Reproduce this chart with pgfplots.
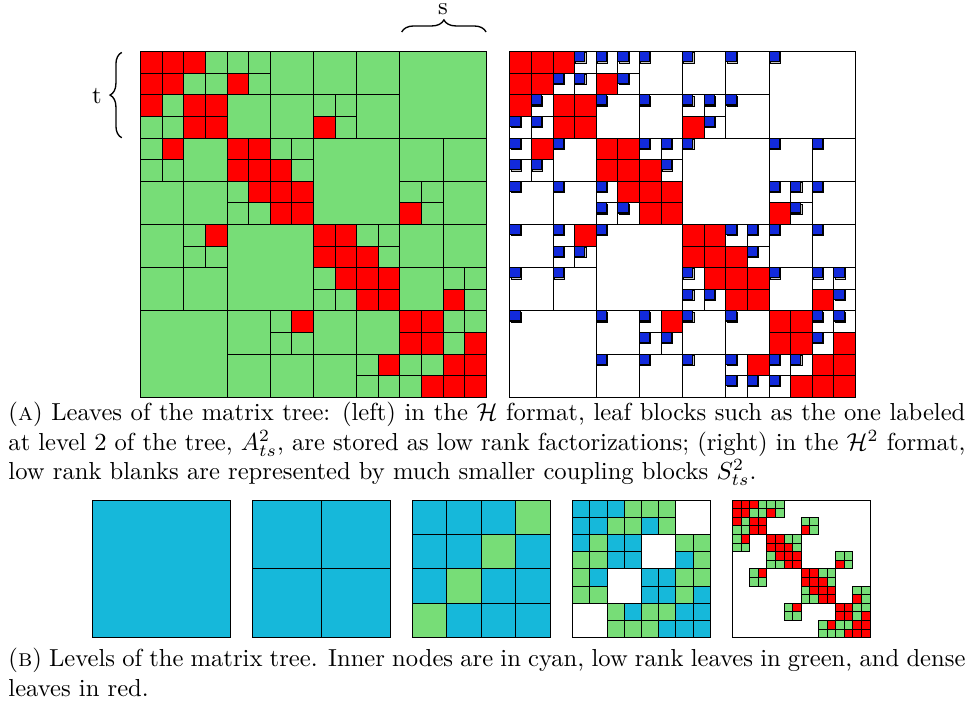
\documentclass[border=0pt]{standalone}
\usepackage{pgfplots}
\usepackage{pgfplotstable}
\pgfplotsset{compat=1.18}
\usetikzlibrary{decorations.pathreplacing}
\definecolor{hgreen}{RGB}{119,221,119}
\definecolor{hred}{RGB}{255,0,0}
\definecolor{hcyan}{RGB}{22,184,218}
\definecolor{hblue}{RGB}{18,42,220}

% dense leaves (row col), 16x16 grid
\pgfplotstableread{
r c
0 0
0 1
0 2
1 0
1 1
1 4
2 0
2 2
2 3
3 2
3 3
3 8
4 1
4 4
4 5
5 4
5 5
5 6
6 5
6 6
6 7
7 6
7 7
7 12
8 3
8 8
8 9
9 8
9 9
9 10
10 9
10 10
10 11
11 10
11 11
11 14
12 7
12 12
12 13
13 12
13 13
13 15
14 11
14 14
14 15
15 13
15 14
15 15
}\redcells

% low rank leaves of size 1
\pgfplotstableread{
r c
0 3
0 4
0 5
1 2
1 3
1 5
2 1
3 0
3 1
4 0
4 6
4 7
5 0
5 1
5 7
6 4
7 4
7 5
2 8
2 9
3 9
6 12
6 13
7 13
8 2
9 2
9 3
12 6
13 6
13 7
8 10
8 11
9 11
10 8
11 8
11 9
10 14
10 15
11 15
12 14
12 15
13 14
14 10
14 12
14 13
15 10
15 11
15 12
}\greenone

% low rank leaves of size 2 (level 3 index)
\pgfplotstableread{
r c
0 3
0 4
0 5
1 2
1 3
1 5
2 1
2 6
2 7
3 0
3 1
3 7
4 0
4 6
4 7
5 0
5 1
5 6
6 2
6 4
6 5
7 2
7 3
7 4
}\greentwo

% low rank leaves of size 4 (level 2 index)
\pgfplotstableread{
r c
0 3
1 2
2 1
3 0
}\greenfour

% inner nodes at level 3 (size 2)
\pgfplotstableread{
r c
0 0
0 1
0 2
1 0
1 1
1 4
2 0
2 2
2 3
3 2
3 3
3 6
4 1
4 4
4 5
5 4
5 5
5 7
6 3
6 6
6 7
7 5
7 6
7 7
}\cyanthree

% inner nodes at level 2 (size 4)
\pgfplotstableread{
r c
0 0
0 1
0 2
1 0
1 1
1 3
2 0
2 2
2 3
3 1
3 2
3 3
}\cyantwo

% inner nodes at level 1 (size 8)
\pgfplotstableread{
r c
0 0
0 1
1 0
1 1
}\cyanone

\pgfplotstableread{
r c
0 0
}\root

\pgfplotsset{
  blk/.style={only marks, mark=square*, mark options={draw=black, line width=0.42pt, fill=#1}},
  shd/.style={only marks, mark=square*, mark options={draw=none, fill=black!22}},
  mat/.style={anchor=north west, x=8.78pt, y=8.78pt, y dir=reverse,
    xmin=0, xmax=16, ymin=0, ymax=16, xtick=\empty, ytick=\empty,
    axis line style={black, line width=0.5pt}, clip=false, axis on top},
  lvl/.style={mat, x=3.494pt, y=3.494pt},
}

\begin{document}
\begin{tikzpicture}
\useasboundingbox (0,0) rectangle (393.9pt,-286.6pt);

% ---------- H format ----------
\begin{axis}[mat, at={(57.2pt,-21.0pt)}]
\addplot[blk=hgreen, mark size=17.56pt] table[x expr=4*\thisrow{c}+2, y expr=4*\thisrow{r}+2]{\greenfour};
\addplot[blk=hgreen, mark size=8.78pt] table[x expr=2*\thisrow{c}+1, y expr=2*\thisrow{r}+1]{\greentwo};
\addplot[blk=hgreen, mark size=4.39pt] table[x expr=\thisrow{c}+0.5, y expr=\thisrow{r}+0.5]{\greenone};
\addplot[blk=hred, mark size=4.39pt] table[x expr=\thisrow{c}+0.5, y expr=\thisrow{r}+0.5]{\redcells};
\node at (axis cs:14,2) {$A^2_{ts}$};
\end{axis}

% ---------- H^2 format ----------
\begin{axis}[mat, at={(207.3pt,-21.0pt)}]
\addplot[blk=white, mark size=17.56pt] table[x expr=4*\thisrow{c}+2, y expr=4*\thisrow{r}+2]{\greenfour};
\addplot[blk=white, mark size=8.78pt] table[x expr=2*\thisrow{c}+1, y expr=2*\thisrow{r}+1]{\greentwo};
\addplot[blk=white, mark size=4.39pt] table[x expr=\thisrow{c}+0.5, y expr=\thisrow{r}+0.5]{\greenone};
\addplot[blk=hred, mark size=4.39pt] table[x expr=\thisrow{c}+0.5, y expr=\thisrow{r}+0.5]{\redcells};
% shadows of coupling blocks
\addplot[shd, mark size=2.06pt] table[x expr=4*\thisrow{c}+0.29, y expr=4*\thisrow{r}+0.29]{\greenfour};
\addplot[shd, mark size=2.06pt] table[x expr=2*\thisrow{c}+0.29, y expr=2*\thisrow{r}+0.29]{\greentwo};
\addplot[shd, mark size=2.06pt] table[x expr=\thisrow{c}+0.29, y expr=\thisrow{r}+0.29]{\greenone};
% coupling blocks
\addplot[blk=hblue, mark size=2.06pt] table[x expr=4*\thisrow{c}+0.235, y expr=4*\thisrow{r}+0.235]{\greenfour};
\addplot[blk=hblue, mark size=2.06pt] table[x expr=2*\thisrow{c}+0.235, y expr=2*\thisrow{r}+0.235]{\greentwo};
\addplot[blk=hblue, mark size=2.06pt] table[x expr=\thisrow{c}+0.235, y expr=\thisrow{r}+0.235]{\greenone};
\end{axis}

% braces
\draw[decorate, decoration={brace, amplitude=4.9pt}, line width=0.55pt] (163.3pt,-13.0pt) -- (197.6pt,-13.0pt);
\node[inner sep=0pt] at (180.1pt,-3.6pt) {s};
\draw[decorate, decoration={brace, amplitude=4.75pt}, line width=0.55pt] (49.5pt,-56.0pt) -- (49.5pt,-21.3pt);
\node[inner sep=0pt] at (39.4pt,-39.0pt) {t};

% caption A
\node[anchor=base west, inner sep=0pt] at (3.25pt,-171.0pt) {\parbox[t]{389pt}{(\textsc{a}) Leaves of the matrix tree: (left) in the $\mathcal{H}$ format, leaf blocks such as the one labeled\linebreak at level 2 of the tree, $A^2_{ts}$, are stored as low rank factorizations; (right) in the $\mathcal{H}^2$ format,\linebreak low rank blanks are represented by much smaller coupling blocks $S^2_{ts}$.}};

% ---------- levels ----------
\begin{axis}[lvl, at={(37.7pt,-203.3pt)}]
\addplot[blk=hcyan, mark size=27.95pt] table[x expr=16*\thisrow{c}+8, y expr=16*\thisrow{r}+8]{\root};
\end{axis}
\begin{axis}[lvl, at={(102.7pt,-203.3pt)}]
\addplot[blk=hcyan, mark size=13.975pt] table[x expr=8*\thisrow{c}+4, y expr=8*\thisrow{r}+4]{\cyanone};
\end{axis}
\begin{axis}[lvl, at={(167.7pt,-203.3pt)}]
\addplot[blk=hcyan, mark size=6.988pt] table[x expr=4*\thisrow{c}+2, y expr=4*\thisrow{r}+2]{\cyantwo};
\addplot[blk=hgreen, mark size=6.988pt] table[x expr=4*\thisrow{c}+2, y expr=4*\thisrow{r}+2]{\greenfour};
\end{axis}
\begin{axis}[lvl, at={(232.8pt,-203.3pt)}]
\addplot[blk=hcyan, mark size=3.494pt] table[x expr=2*\thisrow{c}+1, y expr=2*\thisrow{r}+1]{\cyanthree};
\addplot[blk=hgreen, mark size=3.494pt] table[x expr=2*\thisrow{c}+1, y expr=2*\thisrow{r}+1]{\greentwo};
\end{axis}
\begin{axis}[lvl, at={(297.8pt,-203.3pt)}]
\addplot[blk=hgreen, mark size=1.747pt] table[x expr=\thisrow{c}+0.5, y expr=\thisrow{r}+0.5]{\greenone};
\addplot[blk=hred, mark size=1.747pt] table[x expr=\thisrow{c}+0.5, y expr=\thisrow{r}+0.5]{\redcells};
\end{axis}

% caption B
\node[anchor=base west, inner sep=0pt] at (3.25pt,-271.1pt) {\parbox[t]{389pt}{(\textsc{b}) Levels of the matrix tree. Inner nodes are in cyan, low rank leaves in green, and dense\linebreak leaves in red.}};
\end{tikzpicture}
\end{document}
